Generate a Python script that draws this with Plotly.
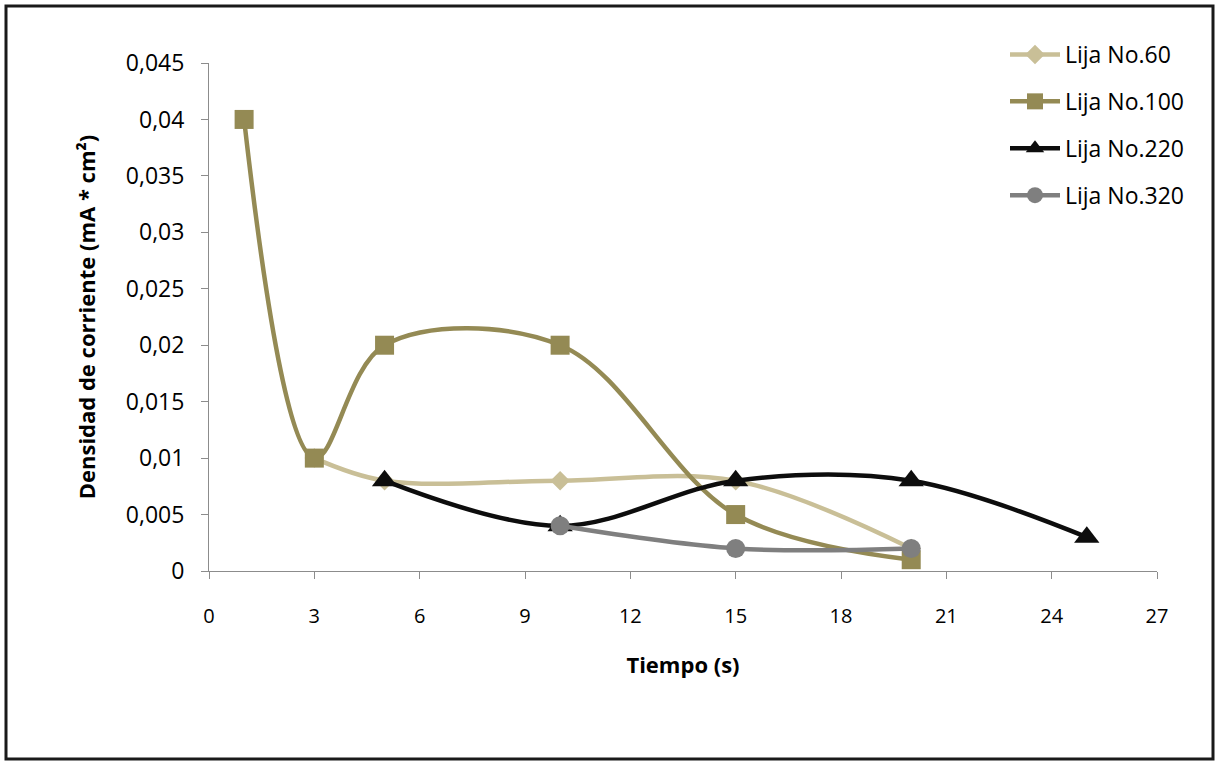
import plotly.graph_objects as go

# Data
x60 = [3, 5, 10, 15, 20]
y60 = [0.010, 0.008, 0.008, 0.008, 0.002]
x100 = [1, 3, 5, 10, 15, 20]
y100 = [0.040, 0.010, 0.020, 0.020, 0.005, 0.001]
x220 = [5, 10, 15, 20, 25]
y220 = [0.008, 0.004, 0.008, 0.008, 0.003]
x320 = [10, 15, 20]
y320 = [0.004, 0.002, 0.002]

x_ticks = [0, 3, 6, 9, 12, 15, 18, 21, 24, 27]
y_ticks = [0, 0.005, 0.01, 0.015, 0.02, 0.025, 0.03, 0.035, 0.04, 0.045]
y_ticktext = ["0", "0,005", "0,01", "0,015", "0,02", "0,025", "0,03", "0,035", "0,04", "0,045"]

series = [
    ("Lija No.60", x60, y60, "#C9BF97", "diamond", 15),
    ("Lija No.100", x100, y100, "#948A54", "square", 19),
    ("Lija No.220", x220, y220, "#0D0D0D", "triangle-up", 22),
    ("Lija No.320", x320, y320, "#7F7F7F", "circle", 19),
]

fig = go.Figure()
for i, (name, xs, ys, col, sym, ms) in enumerate(series):
    fig.add_trace(go.Scatter(
        x=xs, y=ys, name=name, mode="lines+markers",
        line=dict(color=col, width=4.5, shape="spline", smoothing=1.0),
        marker=dict(symbol=sym, size=ms, color=col),
        legendgroup=f"g{i}",
    ))

FONT = "Open Sans, Lato, DejaVu Sans, sans-serif"
L, R, T, B = 209, 60, 63, 190
W, H = 1217, 761
pw, ph = W - L - R, H - T - B

def px(xp):
    return (xp - L) / pw

def py(yp):
    return (H - B - yp) / ph

fig.update_layout(
    width=W, height=H,
    margin=dict(l=L, r=R, t=T, b=B),
    paper_bgcolor="white", plot_bgcolor="white",
    font=dict(family=FONT, size=21, color="#000000"),
    showlegend=True,
    legend=dict(
        x=px(1005), y=py(33), xanchor="left", yanchor="top",
        font=dict(family=FONT, size=23, color="#000000"),
        tracegroupgap=14, bgcolor="rgba(0,0,0,0)",
        itemwidth=50,
    ),
    xaxis=dict(
        range=[0, 27], tickvals=x_ticks, ticktext=[str(v) for v in x_ticks],
        showgrid=False, zeroline=False, showline=True, linecolor="#8C8C8C", linewidth=1,
        ticks="outside", ticklen=7, tickcolor="#8C8C8C",
        tickfont=dict(family=FONT, size=20),
        ticklabelstandoff=20,
        title=dict(text="<b>Tiempo (s)</b>", font=dict(family=FONT, size=22), standoff=29),
    ),
    yaxis=dict(
        range=[0, 0.045], tickvals=y_ticks, ticktext=y_ticktext,
        showgrid=False, zeroline=False, showline=True, linecolor="#8C8C8C", linewidth=1,
        ticks="outside", ticklen=7, tickcolor="#8C8C8C",
        tickfont=dict(family=FONT, size=23),
        ticklabelstandoff=12,
        title=dict(text="<b>Densidad de corriente (mA * cm²)</b>", font=dict(family=FONT, size=22), standoff=24),
    ),
    shapes=[
        dict(type="rect", xref="paper", yref="paper",
             x0=px(6), x1=px(1213), y0=py(759), y1=py(6),
             line=dict(color="#1A1A1A", width=3), fillcolor="rgba(0,0,0,0)", layer="below"),
    ],
)

fig.write_html("out.html")
